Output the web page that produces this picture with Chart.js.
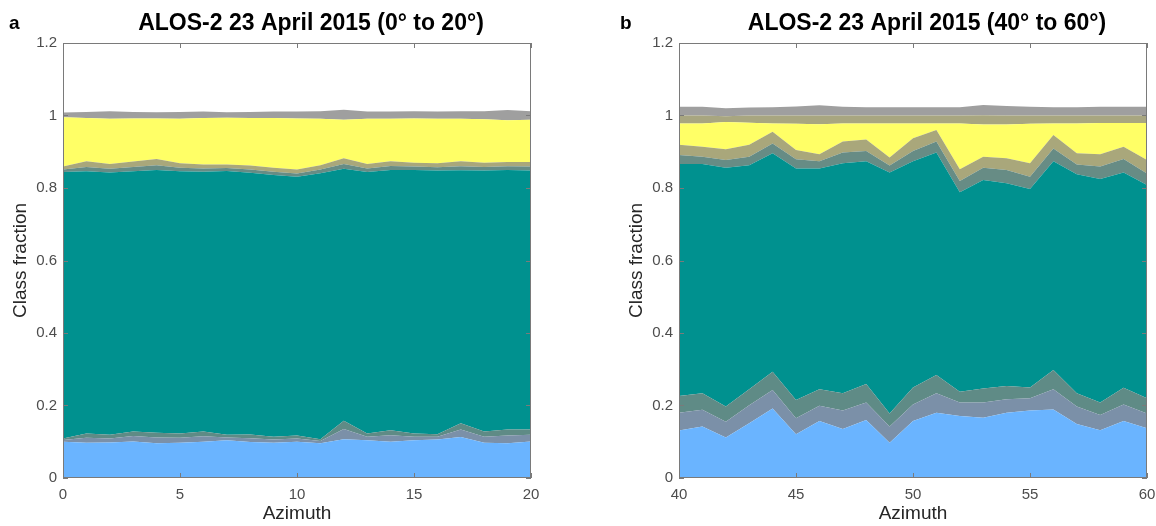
<!DOCTYPE html>
<html lang="en">
<head>
    <meta charset="UTF-8">
    <title>ALOS-2 23 April 2015 class fractions</title>
    <style>
        body { margin: 0; background: #ffffff; }
        .panel { position: absolute; top: 0; width: 540px; height: 526px; }
        #panelA { left: 0; }
        #panelB { left: 616px; }
    </style>
</head>
<body>
    <div class="panel" id="panelA"><canvas id="chartA"></canvas></div>
    <div class="panel" id="panelB"><canvas id="chartB"></canvas></div>

    <script src="https://cdn.jsdelivr.net/npm/chart.js@4.4.0/dist/chart.umd.min.js"></script>
    <script>
        // ---- data: class fractions per azimuth, bottom layer first ----
        const azA = [0, 1, 2, 3, 4, 5, 6, 7, 8, 9, 10, 11, 12, 13, 14, 15, 16, 17, 18, 19, 20];
        const blueA     = [0.100, 0.097, 0.098, 0.101, 0.096, 0.097, 0.100, 0.104, 0.099, 0.097, 0.100, 0.096, 0.107, 0.104, 0.100, 0.104, 0.106, 0.113, 0.097, 0.096, 0.101];
        const greyBlueA = [0.005, 0.014, 0.011, 0.015, 0.016, 0.014, 0.015, 0.008, 0.011, 0.009, 0.009, 0.006, 0.028, 0.010, 0.018, 0.010, 0.008, 0.021, 0.017, 0.021, 0.018];
        const greyTealA = [0.004, 0.012, 0.010, 0.012, 0.013, 0.012, 0.013, 0.007, 0.010, 0.008, 0.008, 0.005, 0.023, 0.009, 0.014, 0.009, 0.007, 0.017, 0.014, 0.017, 0.015];
        const tealA     = [0.735, 0.723, 0.724, 0.718, 0.725, 0.723, 0.717, 0.728, 0.722, 0.722, 0.714, 0.734, 0.695, 0.721, 0.718, 0.727, 0.727, 0.698, 0.720, 0.716, 0.714];
        const greyTeal2A = [0.007, 0.012, 0.010, 0.012, 0.013, 0.010, 0.009, 0.008, 0.009, 0.009, 0.009, 0.010, 0.013, 0.010, 0.011, 0.009, 0.009, 0.011, 0.010, 0.010, 0.011];
        const oliveA    = [0.008, 0.016, 0.013, 0.015, 0.017, 0.012, 0.011, 0.010, 0.011, 0.011, 0.011, 0.012, 0.016, 0.012, 0.013, 0.011, 0.011, 0.014, 0.012, 0.012, 0.013];
        const yellowA   = [0.136, 0.119, 0.125, 0.119, 0.112, 0.123, 0.128, 0.129, 0.131, 0.137, 0.141, 0.128, 0.106, 0.125, 0.117, 0.122, 0.123, 0.117, 0.120, 0.115, 0.116];
        const olive2A   = [0, 0, 0, 0, 0, 0, 0, 0, 0, 0, 0, 0, 0, 0, 0, 0, 0, 0, 0, 0, 0];
        const greyA     = [0.013, 0.017, 0.021, 0.018, 0.017, 0.019, 0.018, 0.015, 0.017, 0.018, 0.019, 0.021, 0.028, 0.020, 0.020, 0.020, 0.020, 0.021, 0.022, 0.028, 0.024];

        const azB = [40, 41, 42, 43, 44, 45, 46, 47, 48, 49, 50, 51, 52, 53, 54, 55, 56, 57, 58, 59, 60];
        const blueB     = [0.131, 0.142, 0.112, 0.151, 0.192, 0.121, 0.157, 0.135, 0.160, 0.097, 0.157, 0.180, 0.171, 0.166, 0.180, 0.186, 0.189, 0.149, 0.132, 0.157, 0.137];
        const greyBlueB = [0.049, 0.046, 0.043, 0.050, 0.051, 0.044, 0.042, 0.051, 0.048, 0.045, 0.046, 0.054, 0.037, 0.042, 0.037, 0.034, 0.056, 0.048, 0.042, 0.046, 0.041];
        const greyTealB = [0.046, 0.046, 0.042, 0.044, 0.050, 0.050, 0.046, 0.048, 0.051, 0.036, 0.047, 0.050, 0.030, 0.039, 0.037, 0.030, 0.053, 0.037, 0.034, 0.046, 0.042];
        const tealB     = [0.640, 0.632, 0.659, 0.618, 0.603, 0.639, 0.609, 0.634, 0.615, 0.665, 0.624, 0.614, 0.550, 0.575, 0.559, 0.547, 0.576, 0.604, 0.617, 0.594, 0.588];
        const greyTeal2B = [0.025, 0.020, 0.021, 0.023, 0.027, 0.025, 0.020, 0.030, 0.028, 0.019, 0.028, 0.030, 0.031, 0.034, 0.037, 0.034, 0.035, 0.027, 0.034, 0.037, 0.032];
        const oliveB    = [0.028, 0.028, 0.030, 0.033, 0.032, 0.026, 0.019, 0.030, 0.032, 0.022, 0.035, 0.032, 0.033, 0.030, 0.032, 0.037, 0.037, 0.031, 0.034, 0.034, 0.037];
        const yellowB   = [0.059, 0.064, 0.075, 0.061, 0.023, 0.072, 0.083, 0.050, 0.044, 0.094, 0.041, 0.018, 0.126, 0.089, 0.093, 0.109, 0.032, 0.082, 0.086, 0.065, 0.102];
        const olive2B   = [0.022, 0.022, 0.016, 0.020, 0.022, 0.023, 0.024, 0.022, 0.022, 0.022, 0.022, 0.022, 0.022, 0.026, 0.025, 0.023, 0.022, 0.022, 0.021, 0.021, 0.021];
        const greyB     = [0.024, 0.024, 0.022, 0.022, 0.023, 0.025, 0.028, 0.024, 0.023, 0.023, 0.023, 0.023, 0.023, 0.028, 0.026, 0.024, 0.023, 0.023, 0.024, 0.024, 0.024];

        const yTicks = [0, 0.2, 0.4, 0.6, 0.8, 1, 1.2];

        const layerColors = ['#6ab4ff', '#7b90a8', '#5f8b86', '#00918f', '#678c85', '#a9a77b', '#ffff66', '#a8a680', '#9f9f9f'];

        const tickFont = { family: "'Liberation Sans', Arial, sans-serif", size: 15 };
        const labelFont = { family: "'Liberation Sans', Arial, sans-serif", size: 19 };

        // box around the axes with inward tick marks, title and panel letter
        const framePlugin = {
            id: 'frame',
            afterDatasetsDraw(chart, args, opts) {
                const { ctx, chartArea: a, scales: { x, y } } = chart;
                ctx.save();
                ctx.strokeStyle = '#7a7a7a';
                ctx.lineWidth = 1;
                ctx.strokeRect(a.left + 0.5, a.top + 0.5, a.width - 1, a.height - 1);
                ctx.beginPath();
                x.ticks.forEach(t => {
                    const px = Math.round(x.getPixelForValue(t.value)) + 0.5;
                    ctx.moveTo(px, a.bottom); ctx.lineTo(px, a.bottom - 5);
                    ctx.moveTo(px, a.top); ctx.lineTo(px, a.top + 5);
                });
                y.ticks.forEach(t => {
                    const py = Math.round(y.getPixelForValue(t.value)) + 0.5;
                    ctx.moveTo(a.left, py); ctx.lineTo(a.left + 5, py);
                    ctx.moveTo(a.right, py); ctx.lineTo(a.right - 5, py);
                });
                ctx.stroke();

                ctx.fillStyle = '#000000';
                ctx.textBaseline = 'middle';
                ctx.font = "bold 23px 'Liberation Sans', Arial, sans-serif";
                ctx.textAlign = 'center';
                ctx.fillText(opts.title, opts.titleX, 24);
                ctx.font = "bold 19px 'Liberation Sans', Arial, sans-serif";
                ctx.textAlign = 'left';
                ctx.fillText(opts.letter, opts.letterX, 24);
                ctx.restore();
            }
        };

        function makeChart(id, az, layers, xMin, xMax, title, letter, letterX) {
            const datasets = layers.map((vals, i) => ({
                data: az.map((a, j) => ({ x: a, y: vals[j] })),
                backgroundColor: layerColors[i],
                borderWidth: 0,
                pointRadius: 0,
                tension: 0,
                fill: i === 0 ? 'origin' : '-1'
            }));
            return new Chart(document.getElementById(id), {
                type: 'line',
                data: { datasets: datasets },
                options: {
                    responsive: true,
                    maintainAspectRatio: false,
                    animation: false,
                    layout: { padding: { top: 43, right: 9, left: 0, bottom: 0 } },
                    plugins: {
                        legend: { display: false },
                        tooltip: { enabled: false },
                        frame: { title: title, titleX: 311, letter: letter, letterX: letterX }
                    },
                    scales: {
                        x: {
                            type: 'linear',
                            min: xMin,
                            max: xMax,
                            grid: { display: false, drawTicks: false },
                            border: { display: false },
                            ticks: { stepSize: 5, padding: 8, color: '#4d4d4d', font: tickFont, maxRotation: 0 },
                            title: { display: true, text: 'Azimuth', color: '#262626', font: labelFont, padding: { top: 0, bottom: 1 } },
                            afterFit(s) { s.height = 48; s.paddingLeft = 0; s.paddingRight = 0; }
                        },
                        y: {
                            stacked: true,
                            min: 0,
                            max: 1.2,
                            grid: { display: false, drawTicks: false },
                            border: { display: false },
                            afterBuildTicks(s) { s.ticks = yTicks.map(v => ({ value: v })); },
                            ticks: {
                                padding: 6,
                                color: '#4d4d4d',
                                font: tickFont,
                                callback: v => String(Number(v.toFixed(1)))
                            },
                            title: { display: true, text: 'Class fraction', color: '#262626', font: labelFont, padding: { top: 9, bottom: 0 } },
                            afterFit(s) { s.width = 63; s.paddingTop = 0; s.paddingBottom = 0; }
                        }
                    }
                },
                plugins: [framePlugin]
            });
        }

        makeChart('chartA', azA,
            [blueA, greyBlueA, greyTealA, tealA, greyTeal2A, oliveA, yellowA, olive2A, greyA],
            0, 20, 'ALOS-2 23 April 2015 (0° to 20°)', 'a', 9);

        makeChart('chartB', azB,
            [blueB, greyBlueB, greyTealB, tealB, greyTeal2B, oliveB, yellowB, olive2B, greyB],
            40, 60, 'ALOS-2 23 April 2015 (40° to 60°)', 'b', 4);
    </script>
</body>
</html>
